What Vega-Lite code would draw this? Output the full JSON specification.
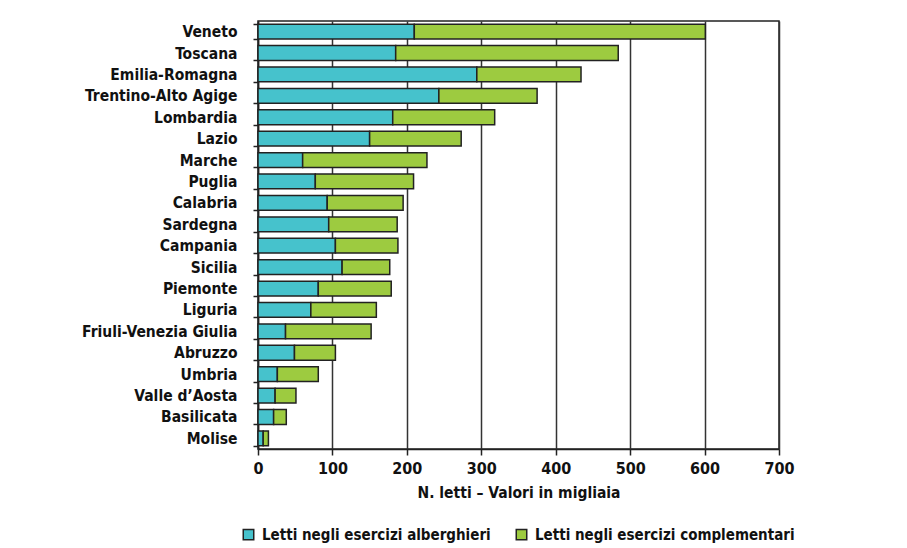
{
  "$schema": "https://vega.github.io/schema/vega-lite/v6.json",
  "autosize": {"type": "none"},
  "padding": {"left": 258, "top": 21, "right": 128, "bottom": 99},
  "width": 521,
  "height": 428,
  "background": "white",
  "config": {
    "font": "DejaVu Sans Condensed, Roboto, sans-serif",
    "view": {"stroke": "#222222", "strokeWidth": 1.5},
    "axis": {"labelFont": "DejaVu Sans Condensed, Roboto, sans-serif", "titleFont": "DejaVu Sans Condensed, Roboto, sans-serif"},
    "legend": {"labelFont": "DejaVu Sans Condensed, Roboto, sans-serif"}
  },
  "data": {
    "values": [
      {"regione": "Veneto", "tipo": "Letti negli esercizi alberghieri", "valore": 210, "ord": 1},
      {"regione": "Veneto", "tipo": "Letti negli esercizi complementari", "valore": 391, "ord": 2},
      {"regione": "Toscana", "tipo": "Letti negli esercizi alberghieri", "valore": 185, "ord": 1},
      {"regione": "Toscana", "tipo": "Letti negli esercizi complementari", "valore": 299, "ord": 2},
      {"regione": "Emilia-Romagna", "tipo": "Letti negli esercizi alberghieri", "valore": 294, "ord": 1},
      {"regione": "Emilia-Romagna", "tipo": "Letti negli esercizi complementari", "valore": 140, "ord": 2},
      {"regione": "Trentino-Alto Agige", "tipo": "Letti negli esercizi alberghieri", "valore": 243, "ord": 1},
      {"regione": "Trentino-Alto Agige", "tipo": "Letti negli esercizi complementari", "valore": 132, "ord": 2},
      {"regione": "Lombardia", "tipo": "Letti negli esercizi alberghieri", "valore": 181, "ord": 1},
      {"regione": "Lombardia", "tipo": "Letti negli esercizi complementari", "valore": 137, "ord": 2},
      {"regione": "Lazio", "tipo": "Letti negli esercizi alberghieri", "valore": 150, "ord": 1},
      {"regione": "Lazio", "tipo": "Letti negli esercizi complementari", "valore": 123, "ord": 2},
      {"regione": "Marche", "tipo": "Letti negli esercizi alberghieri", "valore": 60, "ord": 1},
      {"regione": "Marche", "tipo": "Letti negli esercizi complementari", "valore": 167, "ord": 2},
      {"regione": "Puglia", "tipo": "Letti negli esercizi alberghieri", "valore": 77, "ord": 1},
      {"regione": "Puglia", "tipo": "Letti negli esercizi complementari", "valore": 132, "ord": 2},
      {"regione": "Calabria", "tipo": "Letti negli esercizi alberghieri", "valore": 93, "ord": 1},
      {"regione": "Calabria", "tipo": "Letti negli esercizi complementari", "valore": 102, "ord": 2},
      {"regione": "Sardegna", "tipo": "Letti negli esercizi alberghieri", "valore": 95, "ord": 1},
      {"regione": "Sardegna", "tipo": "Letti negli esercizi complementari", "valore": 92, "ord": 2},
      {"regione": "Campania", "tipo": "Letti negli esercizi alberghieri", "valore": 104, "ord": 1},
      {"regione": "Campania", "tipo": "Letti negli esercizi complementari", "valore": 84, "ord": 2},
      {"regione": "Sicilia", "tipo": "Letti negli esercizi alberghieri", "valore": 113, "ord": 1},
      {"regione": "Sicilia", "tipo": "Letti negli esercizi complementari", "valore": 64, "ord": 2},
      {"regione": "Piemonte", "tipo": "Letti negli esercizi alberghieri", "valore": 81, "ord": 1},
      {"regione": "Piemonte", "tipo": "Letti negli esercizi complementari", "valore": 98, "ord": 2},
      {"regione": "Liguria", "tipo": "Letti negli esercizi alberghieri", "valore": 71, "ord": 1},
      {"regione": "Liguria", "tipo": "Letti negli esercizi complementari", "valore": 88, "ord": 2},
      {"regione": "Friuli-Venezia Giulia", "tipo": "Letti negli esercizi alberghieri", "valore": 37, "ord": 1},
      {"regione": "Friuli-Venezia Giulia", "tipo": "Letti negli esercizi complementari", "valore": 115, "ord": 2},
      {"regione": "Abruzzo", "tipo": "Letti negli esercizi alberghieri", "valore": 49, "ord": 1},
      {"regione": "Abruzzo", "tipo": "Letti negli esercizi complementari", "valore": 55, "ord": 2},
      {"regione": "Umbria", "tipo": "Letti negli esercizi alberghieri", "valore": 26, "ord": 1},
      {"regione": "Umbria", "tipo": "Letti negli esercizi complementari", "valore": 55, "ord": 2},
      {"regione": "Valle d’Aosta", "tipo": "Letti negli esercizi alberghieri", "valore": 23, "ord": 1},
      {"regione": "Valle d’Aosta", "tipo": "Letti negli esercizi complementari", "valore": 28, "ord": 2},
      {"regione": "Basilicata", "tipo": "Letti negli esercizi alberghieri", "valore": 21, "ord": 1},
      {"regione": "Basilicata", "tipo": "Letti negli esercizi complementari", "valore": 17, "ord": 2},
      {"regione": "Molise", "tipo": "Letti negli esercizi alberghieri", "valore": 7, "ord": 1},
      {"regione": "Molise", "tipo": "Letti negli esercizi complementari", "valore": 7, "ord": 2}
    ]
  },
  "mark": {"type": "bar", "stroke": "#222222", "strokeWidth": 1.5},
  "encoding": {
    "y": {
      "field": "regione",
      "type": "nominal",
      "sort": null,
      "scale": {"paddingInner": 0.31, "paddingOuter": 0.15},
      "axis": {
        "title": null,
        "labelFontSize": 15.5,
        "labelFontWeight": "bold",
        "labelColor": "#111111",
        "labelPadding": 16,
        "labelLimit": 300,
        "tickBand": "extent",
        "tickSize": 5,
        "tickColor": "#222222",
        "tickWidth": 1.5,
        "domainColor": "#222222",
        "domainWidth": 1.5,
        "grid": false
      }
    },
    "x": {
      "field": "valore",
      "type": "quantitative",
      "stack": "zero",
      "scale": {"domain": [0, 700], "nice": false},
      "axis": {
        "title": "N. letti – Valori in migliaia",
        "titleFontSize": 15.5,
        "titleFontWeight": "bold",
        "titleColor": "#111111",
        "titlePadding": 9,
        "values": [0, 100, 200, 300, 400, 500, 600, 700],
        "labelFontSize": 16,
        "labelFontWeight": "bold",
        "labelColor": "#111111",
        "labelPadding": 5,
        "labelFlush": false,
        "tickSize": 6,
        "tickColor": "#222222",
        "tickWidth": 1.5,
        "domainColor": "#222222",
        "domainWidth": 1.5,
        "grid": true,
        "gridColor": "#333333",
        "gridWidth": 1.5,
        "gridOpacity": 1
      }
    },
    "order": {"field": "ord", "type": "quantitative"},
    "color": {
      "field": "tipo",
      "type": "nominal",
      "scale": {
        "domain": ["Letti negli esercizi alberghieri", "Letti negli esercizi complementari"],
        "range": ["#46C2CC", "#9DCB40"]
      },
      "legend": {
        "title": null,
        "orient": "none",
        "direction": "horizontal",
        "legendX": -17,
        "legendY": 506,
        "symbolType": "square",
        "symbolSize": 110,
        "symbolStrokeColor": "#222222",
        "symbolStrokeWidth": 1.5,
        "labelFontSize": 15,
        "labelFontWeight": "bold",
        "labelColor": "#111111",
        "labelLimit": 400,
        "columnPadding": 22,
        "labelOffset": 6
      }
    }
  }
}
